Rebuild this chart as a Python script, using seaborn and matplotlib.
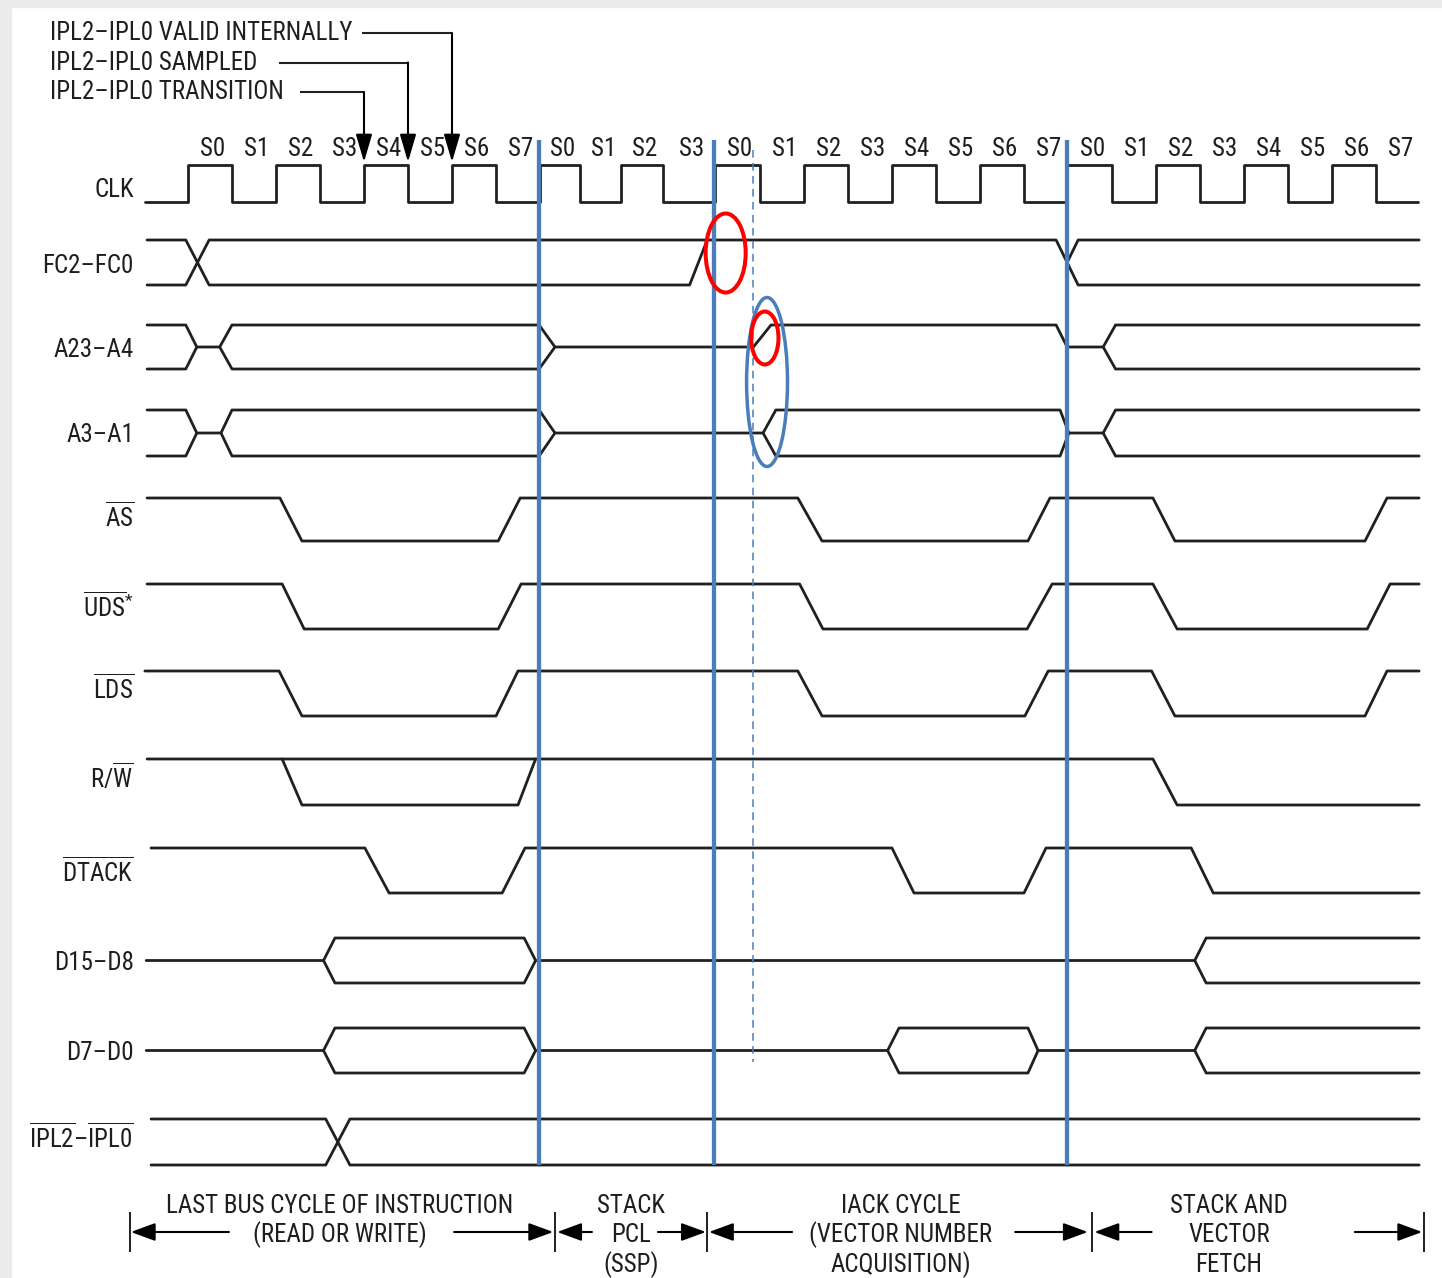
import matplotlib
matplotlib.use("Agg")
import matplotlib.pyplot as plt
import seaborn as sns
import pandas as pd
from matplotlib import font_manager as fm
from matplotlib.patches import Ellipse, Rectangle

# ---------------- data (time t in clock half-periods / bus states) ----------------
CLK_EDGES = [0, 1, 2, 3, 4, 5, 6, 7, 8, 8.9, 9.85, 10.8, 11.97, 13, 14, 15, 16, 17,
             18, 19, 19.98, 21, 22, 23, 24, 25, 26, 27]
CLK_START, CLK_END = -0.98, 27.95
STATE_NAMES = ['S0', 'S1', 'S2', 'S3', 'S4', 'S5', 'S6', 'S7',
               'S0', 'S1', 'S2', 'S3',
               'S0', 'S1', 'S2', 'S3', 'S4', 'S5', 'S6', 'S7',
               'S0', 'S1', 'S2', 'S3', 'S4', 'S5', 'S6', 'S7']
CYCLE_BOUNDARIES = [7.98, 11.96, 19.98]
SAMPLE_MARK = 12.84

# waveforms: polylines of (t, level) with level 1 = high, 0 = low, 0.5 = floating
FC_LINES = [
    [(-0.93, 1), (-0.05, 1), (0.48, 0), (11.4, 0), (11.8, 1)],
    [(-0.93, 0), (-0.05, 0), (0.48, 1), (19.73, 1), (20.23, 0), (27.98, 0)],
    [(19.98, 0.5), (20.23, 1), (27.98, 1)],
]
A23_LINES = [
    [(-0.93, 1), (-0.05, 1), (0.2, 0.5), (0.72, 0.5), (1.0, 1), (7.98, 1), (8.34, 0.5)],
    [(-0.93, 0), (-0.05, 0), (0.2, 0.5)],
    [(0.72, 0.5), (1.0, 0), (7.98, 0), (8.34, 0.5), (12.85, 0.5), (13.25, 1), (19.73, 1),
     (19.98, 0.5), (20.8, 0.5), (21.08, 1), (27.98, 1)],
    [(20.8, 0.5), (21.08, 0), (27.98, 0)],
]
A3_LINES = [
    [(-0.93, 1), (-0.05, 1), (0.2, 0.5), (0.75, 0.5), (1.0, 1), (7.98, 1), (8.34, 0.5)],
    [(-0.93, 0), (-0.05, 0), (0.2, 0.5)],
    [(0.75, 0.5), (1.0, 0), (7.98, 0), (8.34, 0.5), (13.07, 0.5), (13.36, 1), (19.82, 1),
     (20.02, 0.5), (20.8, 0.5), (21.08, 1), (27.98, 1)],
    [(13.07, 0.5), (13.36, 0), (19.82, 0), (20.02, 0.5)],
    [(20.8, 0.5), (21.08, 0), (27.98, 0)],
]
AS_LINES = [
    [(-0.93, 1), (2.09, 1), (2.59, 0), (7.05, 0), (7.55, 1), (13.86, 1), (14.41, 0),
     (19.09, 0), (19.59, 1), (21.93, 1), (22.43, 0), (26.75, 0), (27.25, 1), (27.98, 1)],
]
UDS_LINES = [
    [(-0.93, 1), (2.14, 1), (2.64, 0), (7.05, 0), (7.57, 1), (13.9, 1), (14.43, 0),
     (19.07, 0), (19.64, 1), (21.93, 1), (22.48, 0), (26.8, 0), (27.32, 1), (27.98, 1)],
]
LDS_LINES = [
    [(-0.98, 1), (2.07, 1), (2.59, 0), (7.0, 0), (7.5, 1), (13.86, 1), (14.41, 0),
     (19.02, 0), (19.55, 1), (21.9, 1), (22.43, 0), (26.75, 0), (27.25, 1), (27.98, 1)],
]
RW_LINES = [
    [(-0.93, 1), (21.93, 1), (22.48, 0), (27.98, 0)],
    [(2.14, 1), (2.59, 0), (7.5, 0), (7.9, 1)],
]
DTACK_LINES = [
    [(-0.84, 1), (4.02, 1), (4.57, 0), (7.14, 0), (7.66, 1), (16.0, 1), (16.5, 0),
     (19.0, 0), (19.5, 1), (22.8, 1), (23.3, 0), (27.98, 0)],
]
D15_LINES = [
    [(-0.95, 0.5), (3.08, 0.5), (3.34, 1), (7.64, 1), (7.9, 0.5), (22.88, 0.5), (23.14, 1), (27.98, 1)],
    [(3.08, 0.5), (3.34, 0), (7.64, 0), (7.9, 0.5)],
    [(22.88, 0.5), (23.14, 0), (27.98, 0)],
]
D7_LINES = [
    [(-0.95, 0.5), (3.08, 0.5), (3.34, 1), (7.64, 1), (7.9, 0.5), (15.9, 0.5), (16.16, 1),
     (19.09, 1), (19.32, 0.5), (22.88, 0.5), (23.14, 1), (27.98, 1)],
    [(3.08, 0.5), (3.34, 0), (7.64, 0), (7.9, 0.5)],
    [(15.9, 0.5), (16.16, 0), (19.09, 0), (19.32, 0.5)],
    [(22.88, 0.5), (23.14, 0), (27.98, 0)],
]
IPL_LINES = [
    [(-0.84, 1), (3.13, 1), (3.68, 0), (27.98, 0)],
    [(-0.84, 0), (3.13, 0), (3.68, 1), (27.98, 1)],
]

SIGNAL_NAMES = ['CLK', 'FC', 'A23', 'A3', 'AS', 'UDS', 'LDS', 'RW', 'DTACK', 'D15', 'D7', 'IPL']
SIGNAL_LABELS = ['CLK', 'FC2–FC0', 'A23–A4', 'A3–A1',
                 r'$\overline{\mathrm{AS}}$', r'$\overline{\mathrm{UDS}}^{*}$',
                 r'$\overline{\mathrm{LDS}}$', r'$\mathrm{R/}\overline{\mathrm{W}}$',
                 r'$\overline{\mathrm{DTACK}}$', 'D15–D8', 'D7–D0',
                 r'$\overline{\mathrm{IPL2}}\mathrm{–}\overline{\mathrm{IPL0}}$']

TOP_NOTES = ['IPL2–IPL0 VALID INTERNALLY', 'IPL2–IPL0 SAMPLED', 'IPL2–IPL0 TRANSITION']
TOP_NOTE_EDGE = [6.0, 5.0, 4.0]
TOP_NOTE_LEADER_START = [3.95, 2.07, 2.55]

PHASE_LABELS = [['LAST BUS CYCLE OF INSTRUCTION', '(READ OR WRITE)'],
                ['STACK', 'PCL', '(SSP)'],
                ['IACK CYCLE', '(VECTOR NUMBER', 'ACQUISITION)'],
                ['STACK AND', 'VECTOR', 'FETCH']]
PHASE_CENTERS = [3.45, 10.07, 16.2, 23.66]
PHASE_TICKS = [-1.32, 8.34, 11.8, 20.55, 28.09]
PHASE_ARROWS = [(0.93, -1.30), (6.05, 8.30), (9.18, 8.39), (10.68, 11.77),
                (13.73, 11.84), (18.8, 20.45), (21.9, 20.6), (26.52, 28.05)]

# ---------------- layout (vertical pixel positions, styles) ----------------
ROW_HIGH_Y = [165, 240, 325, 410, 498, 584, 671, 759, 848, 938, 1028, 1119]
ROW_LOW_Y = [202, 285, 369, 456, 541, 629, 716, 805, 893, 983, 1073, 1165]
LABEL_Y = [188, 264, 348, 433, 518, 608, 690, 779, 873, 961, 1051, 1139]
W, H = 1442, 1278
X0_PIX, PIX_PER_STATE = 188, 44.0

sns.set_theme(style="white")
names = {f.name for f in fm.fontManager.ttflist}
FONT, FS = 'Liberation Sans', 15.2
for cand, size in [('Roboto Condensed', 18.0), ('Liberation Sans Narrow', 18.5)]:
    if cand in names:
        FONT, FS = cand, size
        break
plt.rcParams['font.family'] = [FONT, 'DejaVu Sans']
plt.rcParams['mathtext.fontset'] = 'custom'
plt.rcParams['mathtext.rm'] = FONT
plt.rcParams['mathtext.it'] = FONT + ':italic'
plt.rcParams['mathtext.bf'] = FONT + ':bold'
plt.rcParams['mathtext.sf'] = FONT

TXT = '#1e1e1e'
LINE = '#202020'
BLUE = '#4a7ebb'

fig = plt.figure(figsize=(W / 100, H / 100), dpi=100)
fig.patch.set_facecolor('white')
fig.patches.append(Rectangle((0, 0), 11 / W, 1, transform=fig.transFigure, color='#ececec', zorder=0))
fig.patches.append(Rectangle((0, 1 - 7 / H), 1, 7 / H, transform=fig.transFigure, color='#ececec', zorder=0))
ax = fig.add_axes([0, 0, 1, 1])
ax.set_facecolor('none')

# ---- build waveform table ----
clk = [(CLK_START, 0)]
level = 0
for e in CLK_EDGES:
    clk.append((e, level))
    level = 1 - level
    clk.append((e, level))
clk.append((CLK_END, level))
SIGNAL_LINES = [[clk], FC_LINES, A23_LINES, A3_LINES, AS_LINES, UDS_LINES, LDS_LINES,
                RW_LINES, DTACK_LINES, D15_LINES, D7_LINES, IPL_LINES]

records = []
for i, (name, lines) in enumerate(zip(SIGNAL_NAMES, SIGNAL_LINES)):
    hi, lo = ROW_HIGH_Y[i], ROW_LOW_Y[i]
    for k, line in enumerate(lines):
        for j, (t, lev) in enumerate(line):
            records.append(dict(t=t, y=lo + (hi - lo) * lev, uid=f'{name}-{k}', order=j))
df = pd.DataFrame(records)

sns.lineplot(data=df, x='t', y='y', units='uid', estimator=None, sort=False,
             color=LINE, linewidth=2.0, ax=ax, legend=False, zorder=2)

# cycle boundaries
ax.vlines(CYCLE_BOUNDARIES, 140, 1165, color=BLUE, lw=3.1, zorder=3)
ax.vlines([SAMPLE_MARK], 150, 1062, color=BLUE, lw=1.1, linestyles=(0, (5, 3.5)), zorder=3)

# highlight ellipses
ax.add_patch(Ellipse((12.22, 253), 0.91, 79, fill=False, ec='#ff0000', lw=2.9, zorder=4))
ax.add_patch(Ellipse((13.16, 382), 0.93, 169, fill=False, ec=BLUE, lw=2.5, zorder=4))
ax.add_patch(Ellipse((13.11, 338), 0.62, 53, fill=False, ec='#ff0000', lw=2.9, zorder=5))

# labels
label_x = (134 - X0_PIX) / PIX_PER_STATE
for lab, y in zip(SIGNAL_LABELS, LABEL_Y):
    ax.text(label_x, y + 9, lab, ha='right', va='baseline', fontsize=FS, color=TXT)

# state names
bounds = CLK_EDGES + [28]
for k, s in enumerate(STATE_NAMES):
    ax.text((bounds[k] + bounds[k + 1]) / 2 + 0.06, 156, s, ha='center', va='baseline',
            fontsize=FS, color=TXT)

# top notes
note_x = (50 - X0_PIX) / PIX_PER_STATE
for k, (note, edge, start) in enumerate(zip(TOP_NOTES, TOP_NOTE_EDGE, TOP_NOTE_LEADER_START)):
    ty = 31 + 29.5 * k
    ax.text(note_x, ty + 9, note, ha='left', va='baseline', fontsize=FS, color=TXT)
    ly = ty + 2
    ax.plot([start, edge], [ly, ly], color=LINE, lw=1.5, solid_capstyle='butt')
    ax.annotate('', xy=(edge, 162), xytext=(edge, ly),
                arrowprops=dict(arrowstyle='-|>,head_length=1.7,head_width=0.5',
                                color='black', lw=1.5, mutation_scale=10,
                                shrinkA=0, shrinkB=0))

# bottom phase annotation
for lines, cx in zip(PHASE_LABELS, PHASE_CENTERS):
    for j, s in enumerate(lines):
        ax.text(cx, 1204 + 29.5 * j + 9, s, ha='center', va='baseline', fontsize=FS, color=TXT)
ax.vlines(PHASE_TICKS, 1212, 1252, color=LINE, lw=1.4)
for a, b in PHASE_ARROWS:
    ax.annotate('', xy=(b, 1232), xytext=(a, 1232),
                arrowprops=dict(arrowstyle='-|>,head_length=1.5,head_width=0.55',
                                color='black', lw=1.5, mutation_scale=10,
                                shrinkA=0, shrinkB=0))

ax.set_xlim(-X0_PIX / PIX_PER_STATE, (W - X0_PIX) / PIX_PER_STATE)
ax.set_ylim(H, 0)
ax.axis('off')

fig.savefig('out.png', dpi=100)
